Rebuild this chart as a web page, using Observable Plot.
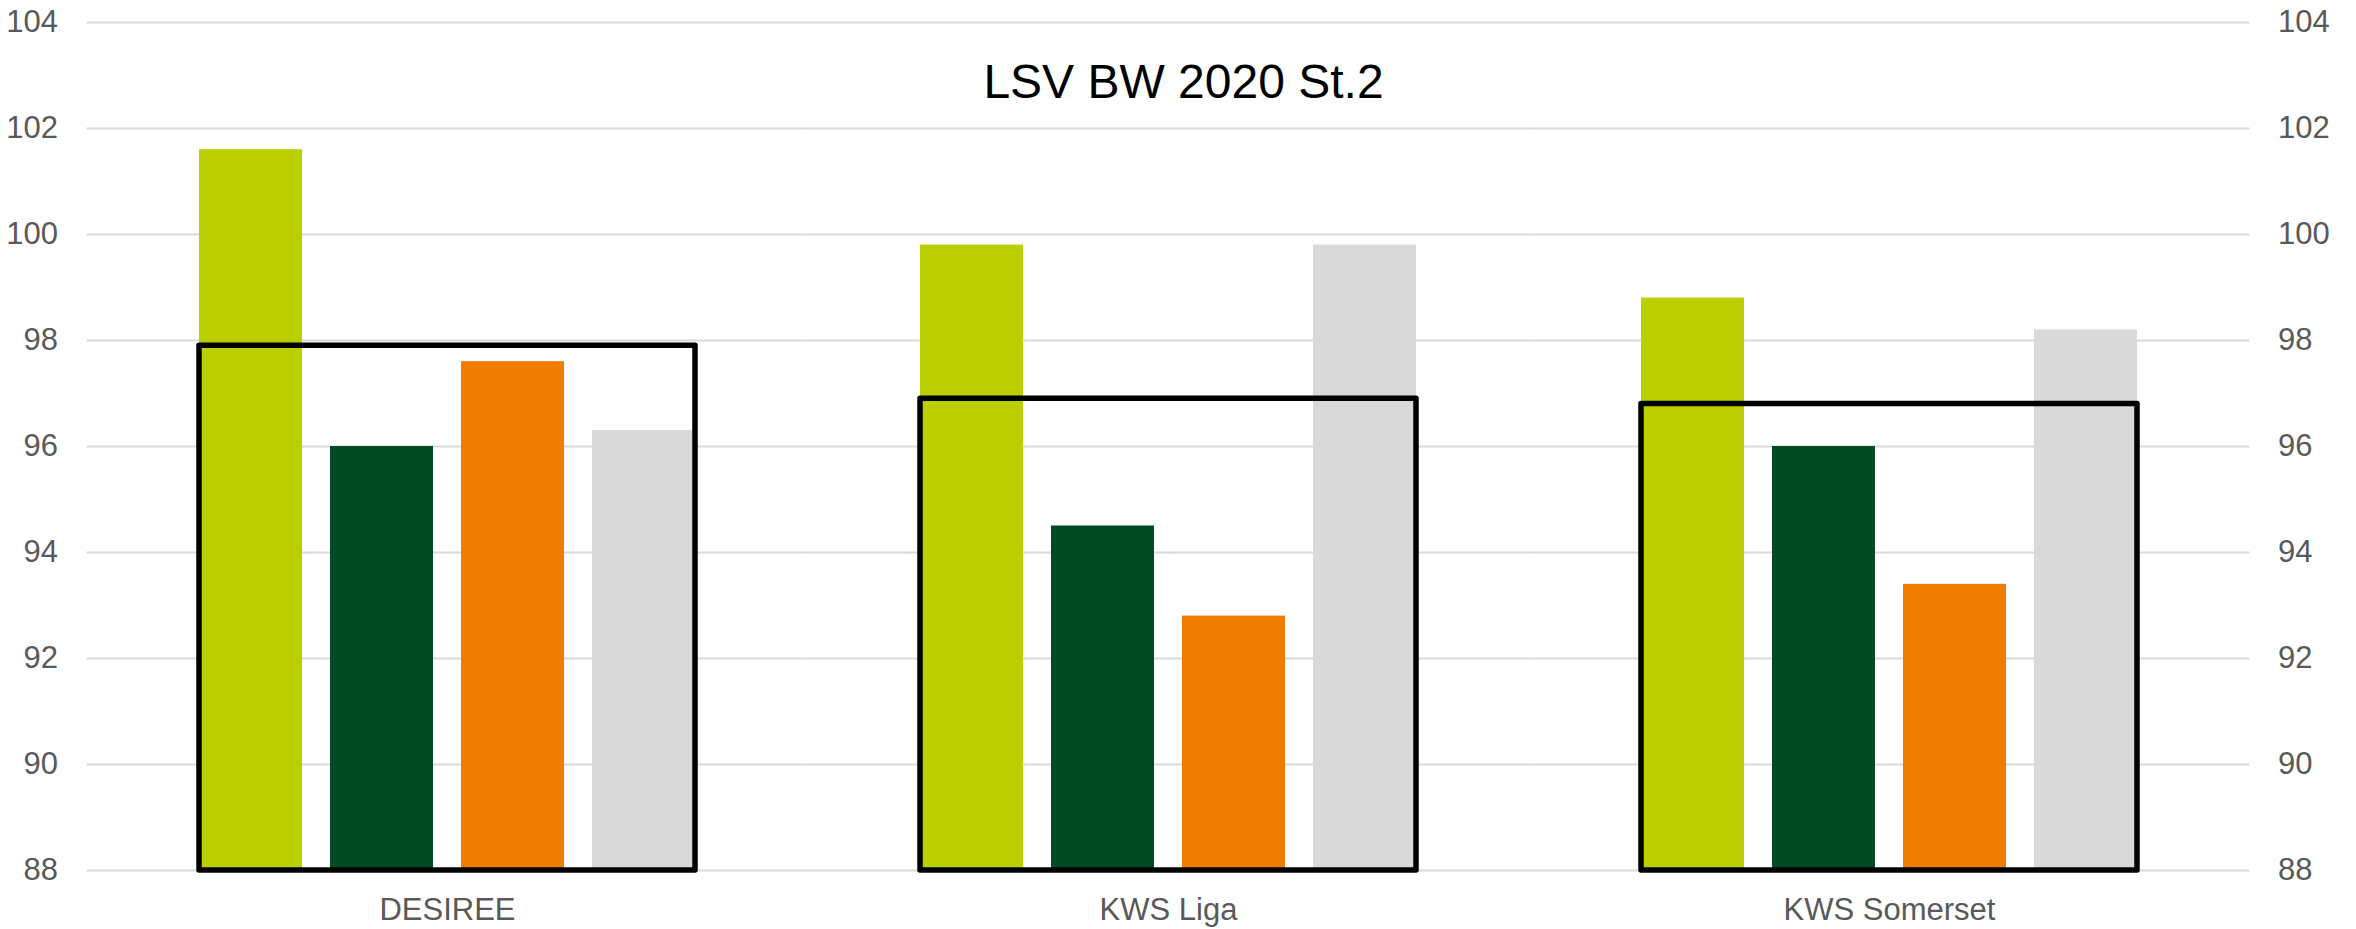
<!DOCTYPE html>
<html>
<head>
<meta charset="utf-8">
<script src="https://cdn.jsdelivr.net/npm/d3@7"></script>
<script src="https://cdn.jsdelivr.net/npm/@observablehq/plot@0.6"></script>
<style>
  body { margin: 0; background: #fff; }
  #chart { position: relative; width: 2356px; height: 929px; font-family: "Liberation Sans", Arial, sans-serif; }
  #title { position: absolute; left: 1183.5px; top: 58px; transform: translateX(-50%); font-size: 48px; line-height: 48px; color: #000; white-space: nowrap; z-index: 2; }
</style>
</head>
<body>
<div id="chart"><div id="title">LSV BW 2020 St.2</div></div>
<script>
const categories = ["DESIREE", "KWS Liga", "KWS Somerset"];
const series = ["Serie 1", "Serie 2", "Serie 3", "Serie 4"];
const serie1 = [101.6, 99.8, 98.8];
const serie2 = [96.0, 94.5, 96.0];
const serie3 = [97.6, 92.8, 93.4];
const serie4 = [96.3, 99.8, 98.2];
const boxValues = [97.9, 96.9, 96.8];
const yTicks = [88, 90, 92, 94, 96, 98, 100, 102, 104];
const colors = ["#BBCF00", "#004B23", "#F07D00", "#D9D9D9"];

const seriesValues = [serie1, serie2, serie3, serie4];
const bars = [];
categories.forEach((cat, i) => {
  series.forEach((s, j) => bars.push({cat, series: s, value: seriesValues[j][i]}));
});
const boxes = categories.map((cat, i) => ({cat, value: boxValues[i]}));

const W = 2356, H = 929, mL = 87, mR = 106;
const fxPad = 0.312;
// half of the gap between facets, so each facet's gridline reaches its neighbours
const step = (W - mL - mR) / categories.length;
const gridExt = step * fxPad / 2;

const font = "'Liberation Sans', Arial, sans-serif";
const plot = Plot.plot({
  width: W,
  height: H,
  marginLeft: mL,
  marginRight: mR,
  marginTop: 22,
  marginBottom: 59,
  style: {fontFamily: font, background: "white", overflow: "visible"},
  fx: {domain: categories, paddingInner: fxPad, paddingOuter: fxPad / 2},
  x: {domain: series, paddingInner: 0.214, paddingOuter: 0, axis: null},
  y: {domain: [88, 104]},
  color: {domain: series, range: colors},
  marks: [
    Plot.ruleY(yTicks, {stroke: "#d9d9d9", strokeWidth: 2, insetLeft: -gridExt, insetRight: -gridExt}),
    Plot.barY(bars, {fx: "cat", x: "series", y1: 88, y2: "value", fill: "series", inset: 0}),
    Plot.barY(boxes, {fx: "cat", y1: 88, y2: "value", fill: "none", stroke: "#000", strokeWidth: 5.5, strokeLinejoin: "round", inset: 0}),
    Plot.axisY({anchor: "left", ticks: yTicks, tickSize: 0, tickPadding: 29 + gridExt, fontSize: 31, color: "#595959", label: null}),
    Plot.axisY({anchor: "right", ticks: yTicks, tickSize: 0, tickPadding: 28 + gridExt, fontSize: 31, color: "#595959", label: null}),
    Plot.axisFx({anchor: "bottom", tickSize: 0, tickPadding: 27, fontSize: 31, color: "#595959", label: null})
  ]
});
plot.style.position = "absolute";
plot.style.left = "0";
plot.style.top = "0";
document.getElementById("chart").appendChild(plot);
</script>
</body>
</html>
